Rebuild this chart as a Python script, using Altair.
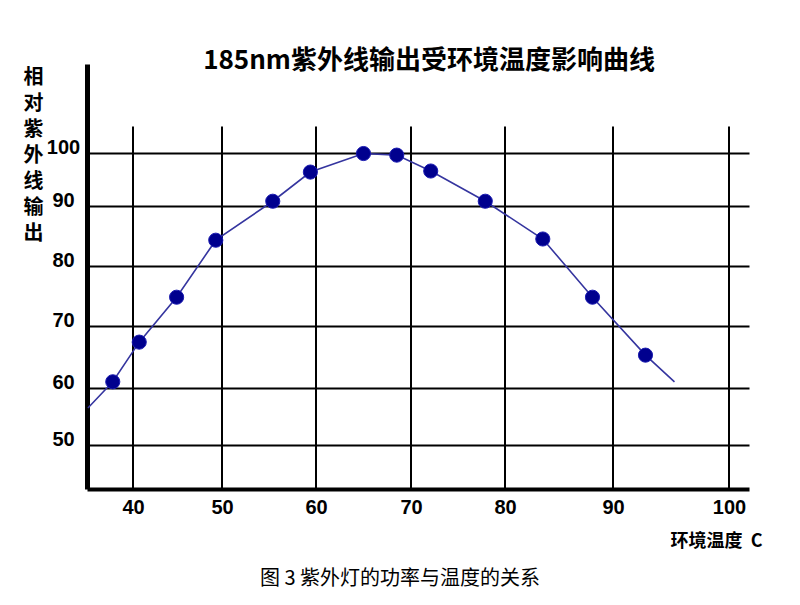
import altair as alt
import pandas as pd

# ---- data ----
title_text = "185nm紫外线输出受环境温度影响曲线"
caption_text = "图 3 紫外灯的功率与温度的关系"
x_title = "环境温度\u00a0\u00a0C"
y_title = ["相", "对", "紫", "外", "线", "输", "出"]

x_ticks = [40, 50, 60, 70, 80, 90, 100]
y_ticks = [50, 60, 70, 80, 90, 100]

dot_x = [37.8, 40.7, 44.9, 49.3, 55.4, 59.4, 65.0, 68.5, 72.1, 77.9, 83.5, 88.1, 92.8]
dot_y = [61.0, 67.4, 74.8, 84.3, 90.9, 96.4, 99.9, 99.6, 96.6, 90.9, 84.5, 74.8, 65.3]

line_x = [35.1] + dot_x + [95.3]
line_y = [56.5] + dot_y + [61.0]

# hand-drawn grid in the reference is unevenly spaced: piecewise-linear scales
x_domain = [35, 40, 50, 60, 70, 80, 90, 100, 101.7]
x_range = [0, 46, 135, 229, 324, 418, 526, 642, 662]
y_domain = [42.3, 50, 60, 70, 80, 90, 100, 116.8]
y_range = [425, 381, 324, 262, 202, 142, 89, 0]

W, H = 662, 425

xs = alt.Scale(domain=x_domain, range=x_range, zero=False, nice=False)
ys = alt.Scale(domain=y_domain, range=y_range, zero=False, nice=False)

dots = pd.DataFrame({"x": dot_x, "y": dot_y})
line_df = pd.DataFrame({"x": line_x, "y": line_y, "o": list(range(len(line_x)))})
vgrid = pd.DataFrame({"x": x_ticks})

x_axis = alt.Axis(
    values=x_ticks, grid=False, ticks=False, domainColor="black", domainWidth=4,
    labelFont="Liberation Sans", labelFontSize=20, labelFontWeight="bold",
    labelColor="black", labelPadding=8, labelFlush=False,
    title=x_title, titleFont="Noto Sans CJK SC", titleFontSize=18,
    titleFontWeight="bold", titleColor="black", titleX=629, titleY=52,
    titleAlign="center", titleBaseline="middle", titleAnchor="start",
)
y_axis = alt.Axis(
    values=y_ticks, grid=True, gridColor="black", gridWidth=2, gridOpacity=1,
    ticks=False, domainColor="black", domainWidth=5,
    labelFont="Liberation Sans", labelFontSize=20, labelFontWeight="bold",
    labelColor="black", labelAlign="center", labelPadding=24,
    labelBaseline="alphabetic",
    title=y_title, titleAngle=0, titleFont="Noto Sans CJK SC", titleFontSize=20,
    titleFontWeight="bold", titleColor="black", titleLineHeight=26,
    titleX=-54, titleY=3, titleAlign="center", titleBaseline="top", titleAnchor="start",
)

base_vrules = alt.Chart(vgrid).mark_rule(color="black", strokeWidth=2).encode(
    x=alt.X("x:Q", scale=xs, axis=x_axis),
    y=alt.Y(datum=42.3, scale=ys, axis=y_axis),
    y2=alt.Y2(datum=105),
)

line = alt.Chart(line_df).mark_line(color="#35359f", strokeWidth=1.6).encode(
    x=alt.X("x:Q", scale=xs),
    y=alt.Y("y:Q", scale=ys),
    order="o:Q",
)

points = alt.Chart(dots).mark_circle(size=200, color="#00008e", opacity=1,
                                     stroke="#1a1ab0", strokeWidth=1).encode(
    x=alt.X("x:Q", scale=xs),
    y=alt.Y("y:Q", scale=ys),
)

title = alt.Chart(pd.DataFrame({"t": [title_text]})).mark_text(
    font="Noto Sans CJK SC", fontSize=26, fontWeight="bold", color="black",
    align="center", baseline="middle"
).encode(text="t:N", x=alt.value(342), y=alt.value(-3))

caption = alt.Chart(pd.DataFrame({"t": [caption_text]})).mark_text(
    font="Noto Sans CJK SC", fontSize=20, fontWeight="normal", color="black",
    align="center", baseline="middle"
).encode(text="t:N", x=alt.value(313), y=alt.value(515))

chart = alt.layer(base_vrules, line, points, title, caption).properties(
    width=W, height=H,
    autosize=alt.AutoSizeParams(type="none"),
    padding={"left": 79, "top": 56, "right": 43, "bottom": 106},
    background="white",
).configure_view(stroke=None)

chart.save("out.html", embed_options={"renderer": "svg", "actions": False})
